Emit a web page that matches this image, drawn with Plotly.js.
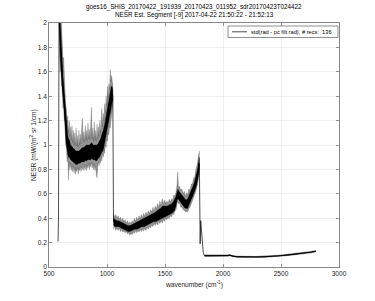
<!DOCTYPE html>
<html>
<head>
<meta charset="utf-8">
<script src="https://cdn.plot.ly/plotly-3.0.1.min.js"></script>
<style>html,body{margin:0;padding:0;background:#fff;}#chart{width:375px;height:301px;}</style>
</head>
<body>
<div id="chart"></div>
<script>
// ---- data ----
const titleLine1 = "goes16_SHIS_20170422_191939_20170423_011952_sdr20170423T024422";
const titleLine2 = "NESR Est. Segment [-9] 2017-04-22 21:50:22 - 21:52:13";
const legendLabel = "std(rad - pc filt rad), # recs:  136";
const xTickVals = [500, 1000, 1500, 2000, 2500, 3000];
const yTickVals = [0, 0.2, 0.4, 0.6, 0.8, 1, 1.2, 1.4, 1.6, 1.8, 2];

// lead-in at start of band 1
const lead_wn   = [578, 580, 582, 584, 587];
const lead_nesr = [0.21, 0.30, 0.42, 1.10, 2.20];

// band 1 (LW): spiky outer envelope
const b1o_wn = [590,596,602,608,614,620,626,632,638,644,650,656,662,668,674,680,686,692,698,704,710,716,722,728,734,740,746,752,758,764,770,776,782,788,794,800,806,812,818,824,830,836,842,848,854,860,866,872,878,884,890,896,902,908,914,920,926,932,938,944,950,956,962,968,974,980,986,992,998,1004,1010,1016,1022,1028,1034,1040,1046,1050];
const b1o_hi = [2.50,2.30,2.10,1.95,1.85,1.70,1.72,1.55,1.52,1.33,1.30,1.18,1.24,1.10,1.20,1.07,1.15,1.04,1.16,1.02,1.12,1.00,1.10,1.00,1.14,0.99,1.08,0.98,1.12,1.00,1.09,1.01,1.15,1.22,1.03,1.11,1.02,1.16,1.04,1.12,1.03,1.18,1.05,1.13,1.04,1.20,1.31,1.05,1.14,1.03,1.19,1.04,1.12,1.03,1.17,1.05,1.15,1.07,1.20,1.10,1.24,1.30,1.15,1.26,1.20,1.34,1.26,1.40,1.32,1.48,1.39,1.50,1.46,1.62,1.52,1.57,1.52,1.50];
const b1o_lo = [1.80,1.60,1.62,1.48,1.50,1.30,1.36,1.20,1.22,1.00,0.98,0.86,0.90,0.71,0.86,0.80,0.85,0.79,0.84,0.78,0.83,0.77,0.82,0.76,0.81,0.78,0.82,0.76,0.81,0.79,0.83,0.78,0.82,0.80,0.84,0.79,0.83,0.80,0.84,0.79,0.84,0.81,0.85,0.80,0.85,0.82,0.86,0.81,0.85,0.80,0.84,0.79,0.83,0.76,0.73,0.82,0.86,0.83,0.88,0.85,0.90,0.87,0.93,0.90,0.96,0.93,1.00,0.98,1.05,1.03,1.10,1.08,1.15,1.14,1.22,1.24,1.30,1.33];
// band 1 dense core
const b1_wn = [587,592,598,604,610,616,622,630,638,646,654,662,668,676,686,696,708,720,732,744,756,768,780,788,800,812,824,836,848,860,868,880,892,904,912,924,936,948,956,968,980,992,1002,1012,1020,1028,1036,1044,1050];
const b1_coreHi = [2.20,2.10,1.95,1.85,1.70,1.60,1.55,1.45,1.35,1.20,1.12,1.08,1.05,1.04,1.00,0.99,0.97,0.96,0.95,0.95,0.95,0.96,0.97,0.98,0.98,0.99,1.00,1.00,1.00,1.01,1.02,1.00,1.00,1.00,1.00,1.01,1.03,1.06,1.09,1.12,1.17,1.24,1.30,1.36,1.42,1.46,1.48,1.48,1.45];
const b1_coreLo = [2.00,1.85,1.70,1.60,1.50,1.42,1.38,1.30,1.15,1.02,0.97,0.92,0.90,0.90,0.88,0.87,0.86,0.85,0.84,0.84,0.85,0.85,0.86,0.86,0.86,0.87,0.87,0.88,0.88,0.88,0.89,0.88,0.88,0.87,0.87,0.89,0.90,0.92,0.94,0.96,1.00,1.05,1.10,1.16,1.22,1.26,1.30,1.35,1.36];

// band 2 (MW): spiky outer envelope
const b2o_wn = [1056,1066,1076,1086,1096,1106,1116,1126,1136,1146,1156,1166,1176,1186,1196,1206,1216,1226,1236,1246,1256,1266,1276,1286,1296,1306,1316,1326,1336,1346,1356,1366,1376,1386,1396,1406,1416,1426,1436,1446,1456,1466,1476,1486,1496,1506,1516,1526,1536,1546,1556,1566,1576,1586,1596,1604,1610,1616,1626,1636,1646,1656,1666,1676,1686,1696,1706,1716,1726,1736,1746,1756,1766,1776,1786,1796];
const b2o_hi = [0.44,0.41,0.43,0.40,0.42,0.39,0.41,0.38,0.40,0.37,0.39,0.36,0.38,0.355,0.37,0.355,0.38,0.36,0.40,0.375,0.41,0.385,0.42,0.395,0.43,0.405,0.44,0.415,0.45,0.43,0.46,0.44,0.47,0.45,0.49,0.46,0.50,0.475,0.52,0.49,0.54,0.50,0.56,0.52,0.55,0.52,0.54,0.52,0.555,0.535,0.56,0.55,0.59,0.58,0.62,0.68,0.78,0.66,0.66,0.63,0.64,0.60,0.62,0.58,0.61,0.59,0.64,0.63,0.68,0.68,0.73,0.74,0.80,0.83,0.90,0.95];
const b2o_lo = [0.31,0.33,0.30,0.32,0.30,0.315,0.29,0.305,0.285,0.295,0.28,0.29,0.27,0.28,0.26,0.275,0.265,0.285,0.275,0.295,0.28,0.30,0.285,0.305,0.29,0.31,0.295,0.315,0.30,0.325,0.31,0.335,0.32,0.345,0.33,0.355,0.34,0.36,0.345,0.37,0.355,0.38,0.36,0.385,0.375,0.40,0.385,0.41,0.395,0.42,0.41,0.435,0.43,0.46,0.47,0.52,0.53,0.52,0.52,0.49,0.49,0.47,0.465,0.45,0.455,0.45,0.48,0.49,0.52,0.54,0.56,0.59,0.62,0.66,0.70,0.76];
// band 2 dense core
const b2_wn = [1056,1070,1085,1100,1120,1140,1160,1180,1200,1220,1240,1260,1280,1300,1320,1340,1360,1380,1400,1420,1440,1460,1480,1500,1520,1540,1560,1580,1595,1605,1612,1620,1635,1650,1665,1680,1695,1710,1725,1740,1755,1770,1780,1790,1796];
const b2_coreHi = [0.40,0.39,0.38,0.38,0.37,0.36,0.35,0.34,0.34,0.35,0.36,0.37,0.38,0.39,0.40,0.41,0.42,0.43,0.44,0.45,0.47,0.48,0.50,0.50,0.50,0.51,0.52,0.55,0.58,0.62,0.64,0.62,0.60,0.58,0.56,0.55,0.56,0.59,0.63,0.66,0.70,0.75,0.80,0.86,0.90];
const b2_coreLo = [0.34,0.33,0.33,0.33,0.32,0.31,0.30,0.29,0.29,0.30,0.31,0.31,0.32,0.33,0.33,0.34,0.35,0.36,0.37,0.37,0.38,0.39,0.40,0.41,0.42,0.43,0.44,0.46,0.50,0.55,0.56,0.55,0.53,0.51,0.49,0.48,0.48,0.51,0.55,0.58,0.61,0.66,0.70,0.75,0.80];

// drop between band 2 and band 3
const tr_wn   = [1796, 1800, 1803, 1808, 1815, 1822, 1830, 1838];
const tr_nesr = [0.85, 0.50, 0.19, 0.38, 0.30, 0.20, 0.12, 0.095];

// band 3 (SW)
const b3_wn = [1840,1880,1920,1960,2000,2040,2060,2080,2120,2160,2200,2240,2280,2320,2360,2400,2440,2480,2520,2560,2600,2640,2680,2720,2760,2800];
const b3_hi = [0.102,0.101,0.1005,0.101,0.1015,0.1025,0.106,0.099,0.093,0.091,0.0905,0.0905,0.091,0.092,0.093,0.095,0.097,0.100,0.104,0.108,0.112,0.116,0.120,0.125,0.131,0.139];
const b3_lo = [0.084,0.083,0.0825,0.083,0.0835,0.0845,0.088,0.081,0.075,0.073,0.0725,0.0725,0.073,0.074,0.075,0.077,0.079,0.082,0.086,0.090,0.094,0.098,0.102,0.107,0.113,0.121];
const b3_coreHi = [0.097,0.096,0.0955,0.096,0.0965,0.0975,0.101,0.094,0.088,0.086,0.0855,0.0855,0.086,0.087,0.088,0.090,0.092,0.095,0.099,0.103,0.107,0.111,0.115,0.120,0.126,0.134];
const b3_coreLo = [0.089,0.088,0.0875,0.088,0.0885,0.0895,0.093,0.086,0.080,0.078,0.0775,0.0775,0.078,0.079,0.080,0.082,0.084,0.087,0.091,0.095,0.099,0.103,0.107,0.112,0.118,0.126];

// ---- build traces ----
function band(xHi, hi, xLo, lo, color, lw) {
  return {
    x: xHi.concat(xLo.slice().reverse()),
    y: hi.concat(lo.slice().reverse()),
    type: 'scatter', mode: 'lines', fill: 'toself',
    fillcolor: color, line: {color: color, width: lw},
    hoverinfo: 'skip', showlegend: false
  };
}
const mid = (a, b) => a.map((v, i) => (v + b[i]) / 2);

const lineX = lead_wn.concat(b1_wn, b2_wn, tr_wn, b3_wn);
const lineY = lead_nesr.concat(mid(b1_coreHi, b1_coreLo), mid(b2_coreHi, b2_coreLo), tr_nesr, mid(b3_coreHi, b3_coreLo));

const outerCol = 'rgba(0,0,0,0.42)';
const traces = [
  band(b1o_wn, b1o_hi, b1o_wn, b1o_lo, outerCol, 0.4),
  band(b2o_wn, b2o_hi, b2o_wn, b2o_lo, outerCol, 0.4),
  band(b3_wn, b3_hi, b3_wn, b3_lo, outerCol, 0),
  band(b1_wn, b1_coreHi, b1_wn, b1_coreLo, '#000', 0.3),
  band(b2_wn, b2_coreHi, b2_wn, b2_coreLo, '#000', 0.3),
  band(b3_wn, b3_coreHi, b3_wn, b3_coreLo, '#000', 0),
  {x: lineX, y: lineY, type: 'scatter', mode: 'lines', name: legendLabel,
   line: {color: '#000', width: 0.7}, showlegend: false}
];

const fontFam = '"Liberation Sans", Arial, sans-serif';
const axisCommon = {
  showgrid: true, gridcolor: '#e6e6e6', gridwidth: 0.6,
  showline: true, linecolor: '#555', linewidth: 0.7, mirror: 'ticks',
  ticks: 'inside', ticklen: 3, tickcolor: '#555', tickwidth: 0.6,
  zeroline: false, tickfont: {family: fontFam, size: 6.6, color: '#262626'},
  fixedrange: true
};

// legend box geometry in paper units (plot area 49..339 x 23..267 px)
const px = v => (v - 49) / 290;
const py = v => (267 - v) / 244;

const layout = {
  width: 375, height: 301,
  margin: {l: 49, r: 36, t: 23, b: 34, pad: 0},
  paper_bgcolor: '#fff', plot_bgcolor: '#fff',
  font: {family: fontFam, size: 6.6, color: '#262626'},
  xaxis: Object.assign({}, axisCommon, {range: [500, 3000], tickvals: xTickVals, ticktext: xTickVals.map(String)}),
  yaxis: Object.assign({}, axisCommon, {range: [0, 2], tickvals: yTickVals, ticktext: yTickVals.map(String)}),
  showlegend: false,
  shapes: [
    {type: 'rect', xref: 'paper', yref: 'paper', x0: px(228), x1: px(338), y0: py(37.5), y1: py(26), fillcolor: '#fff', line: {color: '#444', width: 0.6}, layer: 'above'},
    {type: 'line', xref: 'paper', yref: 'paper', x0: px(232), x1: px(247), y0: py(31.8), y1: py(31.8), line: {color: '#000', width: 0.7}, layer: 'above'}
  ],
  annotations: [
    {text: legendLabel, xref: 'paper', yref: 'paper', x: px(249), y: py(31.8), xanchor: 'left', yanchor: 'middle', showarrow: false, font: {family: fontFam, size: 5.7, color: '#000'}},
    {text: titleLine1, xref: 'paper', yref: 'paper', x: 0.5, y: py(7), xanchor: 'center', yanchor: 'middle', showarrow: false, font: {family: fontFam, size: 6.3, color: '#000'}},
    {text: titleLine2, xref: 'paper', yref: 'paper', x: 0.5, y: py(15), xanchor: 'center', yanchor: 'middle', showarrow: false, font: {family: fontFam, size: 6.3, color: '#000'}},
    {text: 'wavenumber (cm<sup>-1</sup>)', xref: 'paper', yref: 'paper', x: 0.5, y: py(284), xanchor: 'center', yanchor: 'middle', showarrow: false, font: {family: fontFam, size: 6.6, color: '#262626'}},
    {text: 'NESR (mW/(m<sup>2</sup> sr 1/cm)', xref: 'paper', yref: 'paper', x: px(33), y: py(145), xanchor: 'center', yanchor: 'middle', textangle: -90, showarrow: false, font: {family: fontFam, size: 6.6, color: '#262626'}}
  ]
};

Plotly.newPlot('chart', traces, layout, {displayModeBar: false, staticPlot: true});
</script>
</body>
</html>
